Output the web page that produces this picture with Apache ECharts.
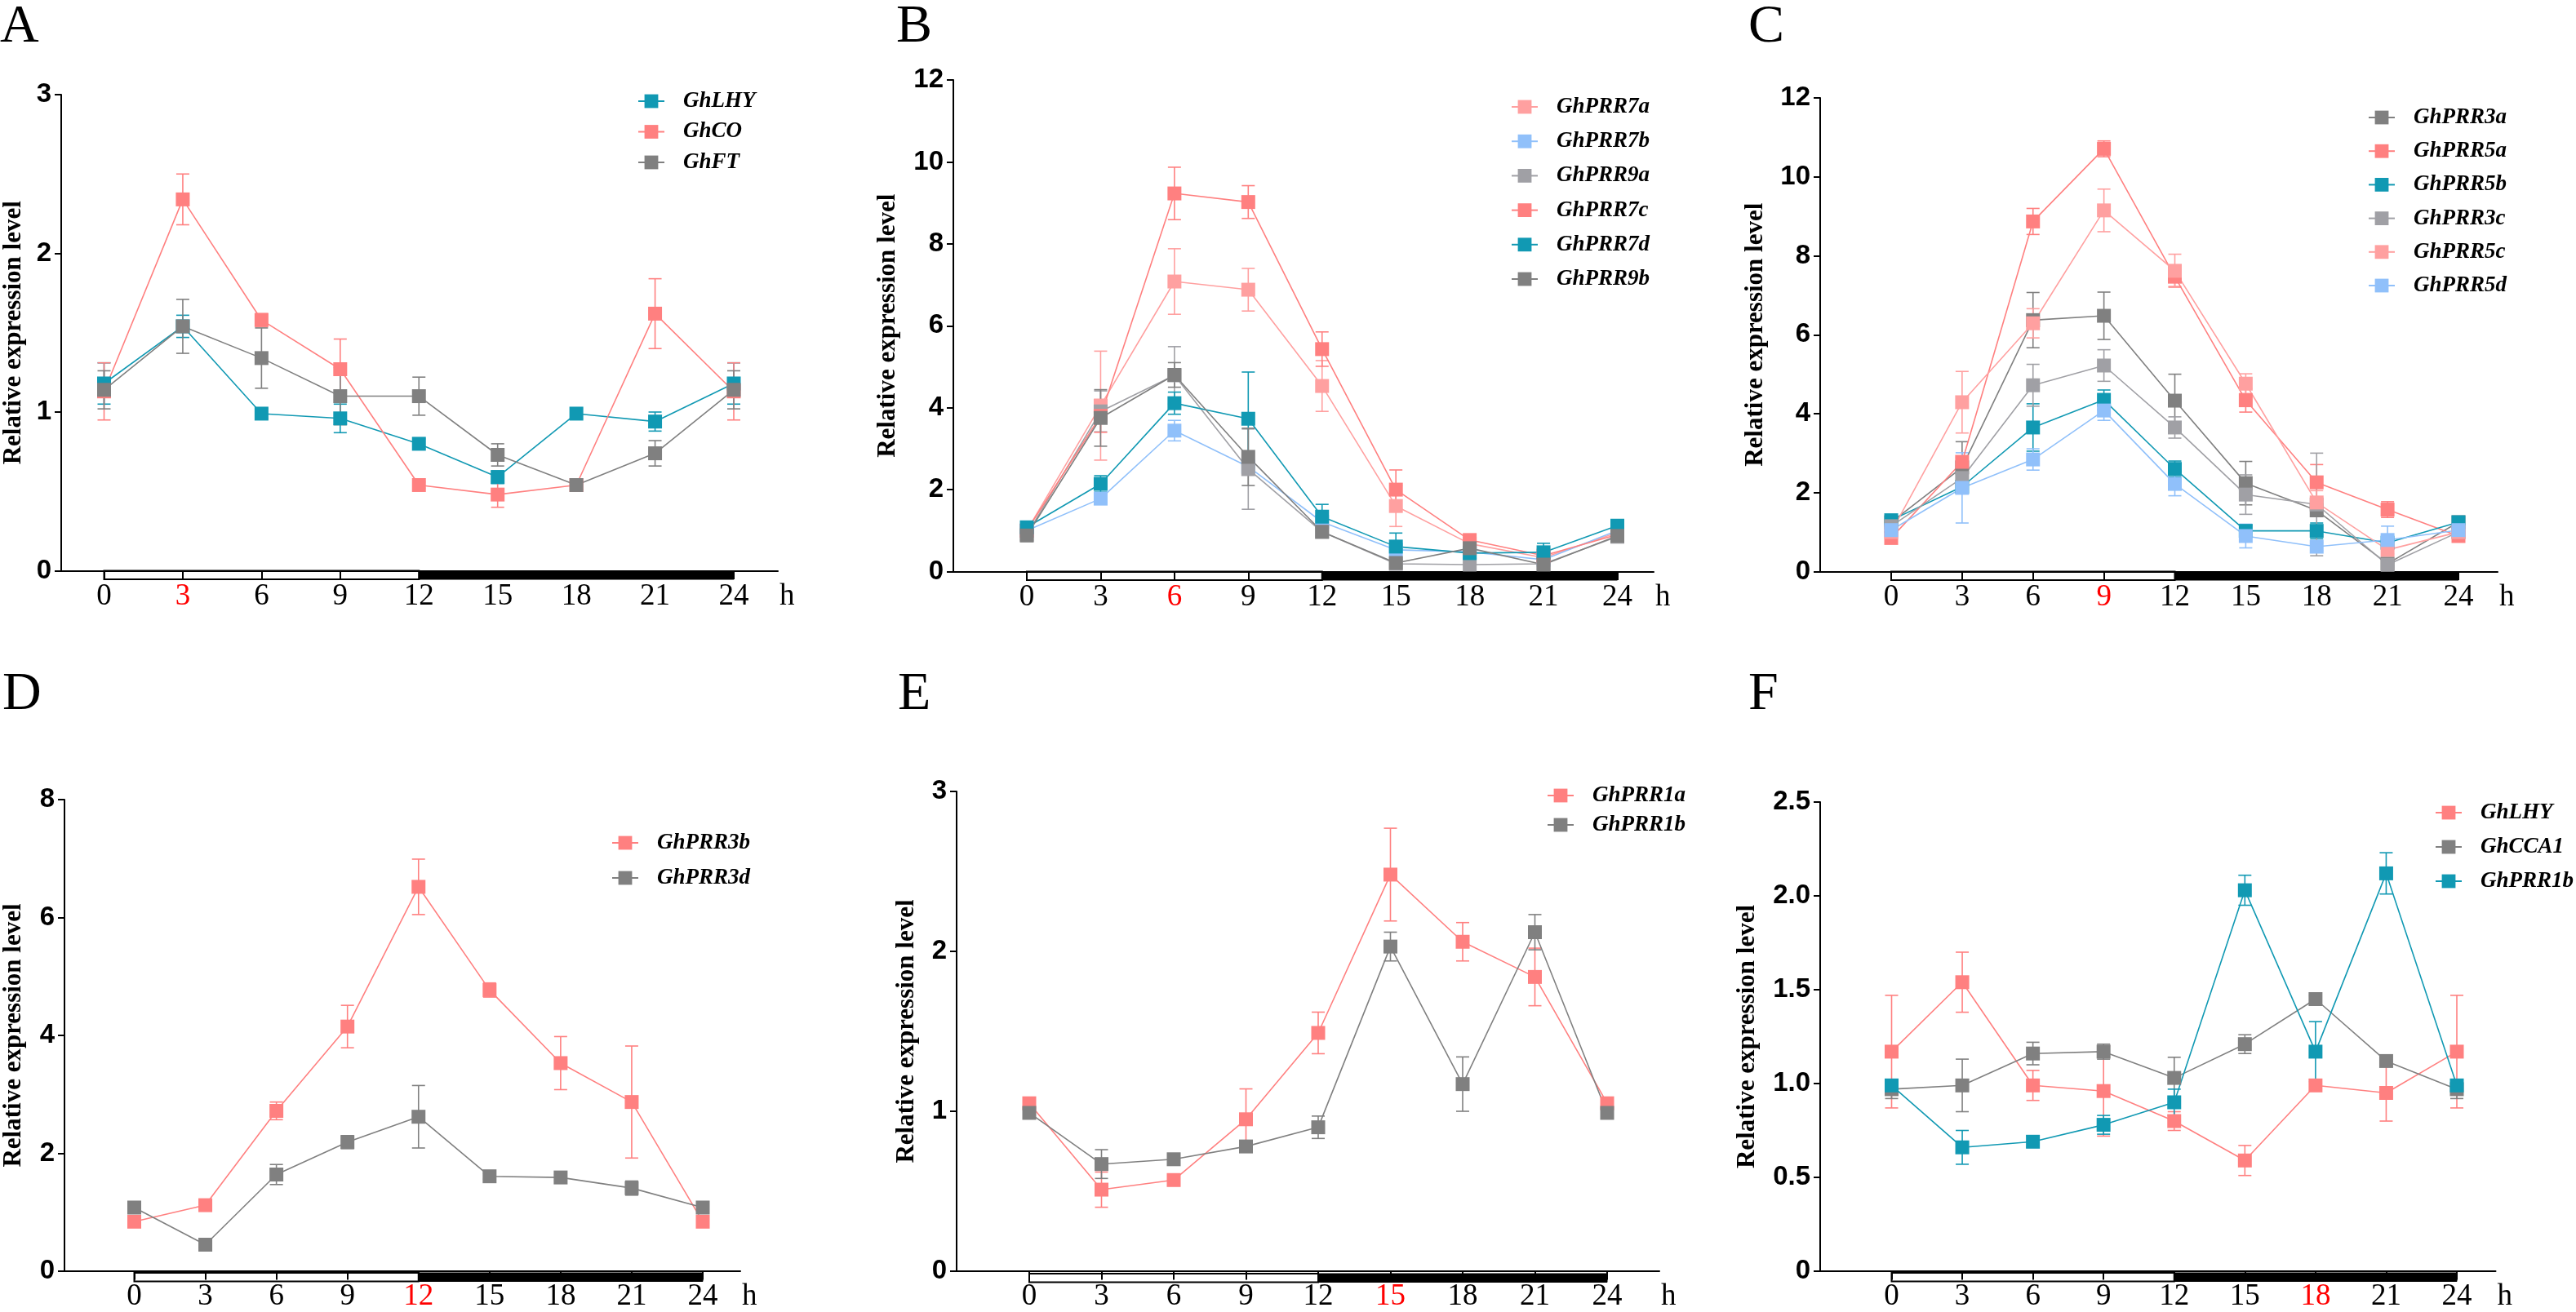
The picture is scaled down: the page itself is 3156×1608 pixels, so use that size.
<!DOCTYPE html>
<html>
<head>
<meta charset="utf-8">
<script src="https://cdn.jsdelivr.net/npm/echarts@6/dist/echarts.min.js"></script>
<style>html,body{margin:0;padding:0;background:#fff;}#c{width:3156px;height:1608px;}</style>
</head>
<body>
<div id="c"></div>
<script>
// ---------- data ----------
const hours = [0, 3, 6, 9, 12, 15, 18, 21, 24];
const dayNight = [[0, 12, 0], [12, 24, 1]]; // [start, end, 0=light 1=dark]

// Panel A
const aLHY = [1.18, 1.54, 0.99, 0.96, 0.80, 0.59, 0.99, 0.94, 1.18];
const aLHYErr = [0.13, 0.07, 0.03, 0.09, 0.03, 0.04, 0.03, 0.06, 0.13];
const aCO = [1.13, 2.34, 1.58, 1.27, 0.54, 0.48, 0.54, 1.62, 1.13];
const aCOErr = [0.18, 0.16, 0.04, 0.19, 0.02, 0.08, 0.03, 0.22, 0.18];
const aFT = [1.14, 1.54, 1.34, 1.10, 1.10, 0.73, 0.54, 0.74, 1.14];
const aFTErr = [0.12, 0.17, 0.19, 0.18, 0.12, 0.07, 0.03, 0.08, 0.12];

// Panel B
const bPRR7a = [1.00, 4.05, 7.08, 6.88, 4.53, 1.60, 0.68, 0.34, 0.95];
const bPRR7aErr = [0.05, 1.33, 0.80, 0.52, 0.62, 0.50, 0.10, 0.05, 0.05];
const bPRR7b = [1.00, 1.78, 3.44, 2.56, 1.21, 0.53, 0.48, 0.29, 1.00];
const bPRR7bErr = [0.05, 0.10, 0.25, 0.10, 0.10, 0.05, 0.05, 0.05, 0.05];
const bPRR9a = [0.90, 3.91, 4.79, 2.50, 0.97, 0.19, 0.17, 0.19, 0.85];
const bPRR9aErr = [0.05, 0.50, 0.70, 0.98, 0.10, 0.05, 0.05, 0.05, 0.05];
const bPRR7c = [1.00, 3.80, 9.23, 9.02, 5.43, 2.00, 0.77, 0.39, 0.90];
const bPRR7cErr = [0.05, 0.40, 0.64, 0.40, 0.42, 0.48, 0.12, 0.05, 0.05];
const bPRR7d = [1.08, 2.14, 4.11, 3.73, 1.34, 0.61, 0.45, 0.47, 1.12];
const bPRR7dErr = [0.05, 0.20, 0.27, 1.14, 0.30, 0.33, 0.05, 0.22, 0.05];
const bPRR9b = [0.88, 3.75, 4.80, 2.80, 0.97, 0.21, 0.57, 0.17, 0.87];
const bPRR9bErr = [0.05, 0.69, 0.30, 0.70, 0.10, 0.05, 0.10, 0.05, 0.05];

// Panel C
const cPRR3a = [1.25, 2.64, 6.37, 6.48, 4.33, 2.24, 1.55, 0.20, 1.25];
const cPRR3aErr = [0.10, 0.65, 0.70, 0.60, 0.67, 0.55, 0.10, 0.05, 0.10];
const cPRR5a = [0.85, 2.78, 8.87, 10.71, 7.47, 4.34, 2.26, 1.57, 0.90];
const cPRR5aErr = [0.10, 0.10, 0.33, 0.20, 0.25, 0.30, 0.45, 0.20, 0.10];
const cPRR5b = [1.30, 2.15, 3.65, 4.35, 2.60, 1.03, 1.03, 0.73, 1.25];
const cPRR5bErr = [0.10, 0.10, 0.60, 0.25, 0.20, 0.15, 0.20, 0.05, 0.10];
const cPRR3c = [1.15, 2.37, 4.72, 5.22, 3.65, 1.95, 1.70, 0.17, 1.00];
const cPRR3cErr = [0.10, 0.10, 0.53, 0.40, 0.27, 0.50, 1.30, 0.05, 0.10];
const cPRR5c = [1.00, 4.29, 6.29, 9.15, 7.62, 4.76, 1.75, 0.55, 1.00];
const cPRR5cErr = [0.10, 0.78, 0.37, 0.54, 0.42, 0.25, 0.30, 0.10, 0.10];
const cPRR5d = [1.05, 2.12, 2.84, 4.08, 2.22, 0.90, 0.63, 0.80, 1.05];
const cPRR5dErr = [0.10, 0.89, 0.27, 0.25, 0.30, 0.30, 0.10, 0.35, 0.10];

// Panel D
const dPRR3b = [0.84, 1.12, 2.72, 4.15, 6.52, 4.77, 3.53, 2.87, 0.84];
const dPRR3bErr = [0.05, 0.05, 0.15, 0.36, 0.47, 0.12, 0.45, 0.95, 0.05];
const dPRR3d = [1.08, 0.45, 1.64, 2.19, 2.62, 1.61, 1.59, 1.41, 1.08];
const dPRR3dErr = [0.05, 0.05, 0.17, 0.11, 0.53, 0.05, 0.05, 0.12, 0.05];

// Panel E
const ePRR1a = [1.05, 0.51, 0.57, 0.95, 1.49, 2.48, 2.06, 1.84, 1.05];
const ePRR1aErr = [0.02, 0.11, 0.02, 0.19, 0.13, 0.29, 0.12, 0.18, 0.02];
const ePRR1b = [0.99, 0.67, 0.70, 0.78, 0.90, 2.03, 1.17, 2.12, 0.99];
const ePRR1bErr = [0.02, 0.09, 0.03, 0.03, 0.07, 0.09, 0.17, 0.11, 0.02];

// Panel F
const fLHY = [1.17, 1.54, 0.99, 0.96, 0.80, 0.59, 0.99, 0.95, 1.17];
const fLHYErr = [0.30, 0.16, 0.08, 0.24, 0.05, 0.08, 0.03, 0.15, 0.30];
const fCCA1 = [0.97, 0.99, 1.16, 1.17, 1.03, 1.21, 1.45, 1.12, 0.97];
const fCCA1Err = [0.05, 0.14, 0.06, 0.04, 0.11, 0.05, 0.02, 0.02, 0.05];
const fPRR1b = [0.99, 0.66, 0.69, 0.78, 0.90, 2.03, 1.17, 2.12, 0.99];
const fPRR1bErr = [0.02, 0.09, 0.03, 0.05, 0.07, 0.08, 0.16, 0.11, 0.02];

// ---------- colours ----------
const TEAL = '#1199B3', SALMON = '#FF8080', LPINK = '#FFA0A0',
      LBLUE = '#90C0FA', LGREY = '#A0A0A5', GREY = '#808080';

// ---------- panels ----------
const panels = [
  { key: 'A', hl: 3, series: [['GhLHY', aLHY, aLHYErr, TEAL], ['GhCO', aCO, aCOErr, SALMON], ['GhFT', aFT, aFTErr, GREY]] },
  { key: 'B', hl: 6, series: [['GhPRR7a', bPRR7a, bPRR7aErr, LPINK], ['GhPRR7b', bPRR7b, bPRR7bErr, LBLUE], ['GhPRR9a', bPRR9a, bPRR9aErr, LGREY],
                              ['GhPRR7c', bPRR7c, bPRR7cErr, SALMON], ['GhPRR7d', bPRR7d, bPRR7dErr, TEAL], ['GhPRR9b', bPRR9b, bPRR9bErr, GREY]] },
  { key: 'C', hl: 9, series: [['GhPRR3a', cPRR3a, cPRR3aErr, GREY], ['GhPRR5a', cPRR5a, cPRR5aErr, SALMON], ['GhPRR5b', cPRR5b, cPRR5bErr, TEAL],
                              ['GhPRR3c', cPRR3c, cPRR3cErr, LGREY], ['GhPRR5c', cPRR5c, cPRR5cErr, LPINK], ['GhPRR5d', cPRR5d, cPRR5dErr, LBLUE]] },
  { key: 'D', hl: 12, series: [['GhPRR3b', dPRR3b, dPRR3bErr, SALMON], ['GhPRR3d', dPRR3d, dPRR3dErr, GREY]] },
  { key: 'E', hl: 15, series: [['GhPRR1a', ePRR1a, ePRR1aErr, SALMON], ['GhPRR1b', ePRR1b, ePRR1bErr, GREY]] },
  { key: 'F', hl: 18, series: [['GhLHY', fLHY, fLHYErr, SALMON], ['GhCCA1', fCCA1, fCCA1Err, GREY], ['GhPRR1b', fPRR1b, fPRR1bErr, TEAL]] }
];
const yMax = { A: 3, B: 12, C: 12, D: 8, E: 3, F: 2.5 };
const yStep = { A: 1, B: 2, C: 2, D: 2, E: 1, F: 0.5 };

// ---------- layout (pixels) ----------
const L = {
  A: { ax: 72,   end: 953,    x0: 127.5,  x24: 899,    top: 116, y0: 699.5, lab: [0, 1],     leg: [797, 124, 37.5],  gap: 43 },
  B: { ax: 1168, end: 2026,   x0: 1258,   x24: 1981.5, top: 98,  y0: 700.5, lab: [1098, 1],  leg: [1867, 131, 42.2], gap: 65 },
  C: { ax: 2230, end: 3060,   x0: 2317,   x24: 3012,   top: 120, y0: 700.5, lab: [2142, 1],  leg: [2917, 144, 41.2], gap: 64 },
  D: { ax: 78,   end: 907,    x0: 164.5,  x24: 861,    top: 980, y0: 1560,  lab: [3, 819],   leg: [765, 1033, 43],   gap: 47 },
  E: { ax: 1172, end: 2033,   x0: 1261,   x24: 1969,   top: 970, y0: 1561,  lab: [1100, 819],leg: [1911, 975, 36],   gap: 46 },
  F: { ax: 2230, end: 3057.5, x0: 2317.5, x24: 3010,   top: 983, y0: 1560,  lab: [2142, 819],leg: [2999, 996, 42],   gap: 74 }
};
const BAR_H = 10.5;
const SERIF = "'Liberation Serif', 'Times New Roman', serif";
const SANS = "'Liberation Sans', Arial, sans-serif";
const W = 3156, H = 1608;

function errRender(params, api) {
  const x = api.value(0), v = api.value(1), e = api.value(2);
  const t = api.coord([x, v + e]), b = api.coord([x, v - e]);
  const hw = 8;
  const style = { stroke: api.visual('color'), lineWidth: 1.6 };
  return { type: 'group', children: [
    { type: 'line', shape: { x1: t[0], y1: t[1], x2: b[0], y2: b[1] }, style },
    { type: 'line', shape: { x1: t[0] - hw, y1: t[1], x2: t[0] + hw, y2: t[1] }, style },
    { type: 'line', shape: { x1: b[0] - hw, y1: b[1], x2: b[0] + hw, y2: b[1] }, style }
  ] };
}
function barRender(params, api) {
  const s = api.value(0), e = api.value(1), dark = api.value(2);
  const p1 = api.coord([s, 1]), p2 = api.coord([e, 0]);
  return { type: 'rect', shape: { x: p1[0], y: p1[1], width: p2[0] - p1[0], height: p2[1] - p1[1] },
           style: dark ? { fill: '#000', stroke: '#000', lineWidth: 1 } : { fill: 'rgba(0,0,0,0)', stroke: '#000', lineWidth: 2 } };
}

const option = { animation: false, backgroundColor: '#fff', title: [], grid: [], xAxis: [], yAxis: [], legend: [], series: [] };

panels.forEach((p, i) => {
  const l = L[p.key];
  const gMain = i * 3, gFrame = i * 3 + 1, gBar = i * 3 + 2;
  const h = l.y0 - l.top;
  option.grid.push({ left: l.x0, top: l.top, width: l.x24 - l.x0, height: h });
  option.grid.push({ left: l.ax, top: l.top, width: l.end - l.ax, height: h });
  option.grid.push({ left: l.x0, top: l.y0, width: l.x24 - l.x0, height: BAR_H });

  option.title.push({ text: p.key, left: l.lab[0], top: l.lab[1], padding: 0,
    textStyle: { fontFamily: SERIF, fontWeight: 'normal', fontSize: 66, color: '#000' } });

  // x axes
  option.xAxis.push({ gridIndex: gMain, type: 'value', min: 0, max: 24, interval: 3,
    axisLine: { show: false }, splitLine: { show: false },
    axisTick: { show: true, length: BAR_H, lineStyle: { color: '#000', width: 2 } },
    axisLabel: { show: true, margin: 13, fontFamily: SERIF, fontSize: 37, color: '#000',
      formatter: v => (v === p.hl ? '{r|' + v + '}' : '{n|' + v + '}'),
      rich: { r: { color: '#FF0000', fontFamily: SERIF, fontSize: 37 }, n: { color: '#000', fontFamily: SERIF, fontSize: 37 } } } });
  option.xAxis.push({ gridIndex: gFrame, type: 'value', min: 0, max: 1,
    axisLine: { show: true, lineStyle: { color: '#000', width: 2 } }, axisTick: { show: false }, axisLabel: { show: false },
    splitLine: { show: false }, name: 'h', nameLocation: 'end', nameGap: 2,
    nameTextStyle: { fontFamily: SERIF, fontSize: 37, color: '#000', verticalAlign: 'top', padding: [13, 0, 0, 0] } });
  option.xAxis.push({ gridIndex: gBar, type: 'value', min: 0, max: 24, show: false });

  // y axes
  option.yAxis.push({ gridIndex: gMain, type: 'value', min: 0, max: yMax[p.key], show: false });
  option.yAxis.push({ gridIndex: gFrame, type: 'value', min: 0, max: yMax[p.key], interval: yStep[p.key],
    axisLine: { show: true, lineStyle: { color: '#000', width: 2 } },
    axisTick: { show: true, length: 8, lineStyle: { color: '#000', width: 2 } },
    splitLine: { show: false },
    axisLabel: { margin: 12, fontFamily: SANS, fontWeight: 'bold', fontSize: 33, color: '#000',
      formatter: v => (yStep[p.key] < 1 ? (v === 0 ? '0' : v.toFixed(1)) : String(v)) },
    name: 'Relative expression level', nameLocation: 'middle', nameRotate: 90, nameGap: l.gap,
    nameTextStyle: { fontFamily: SERIF, fontWeight: 'bold', fontSize: 31, color: '#000' } });
  option.yAxis.push({ gridIndex: gBar, type: 'value', min: 0, max: 1, show: false });

  // day/night bar
  option.series.push({ type: 'custom', name: p.key + '|bar', xAxisIndex: gBar, yAxisIndex: gBar,
    renderItem: barRender, data: dayNight, silent: true, z: 1 });

  // legend
  const names = [];
  const rowH = 27;
  option.legend.push({ orient: 'vertical', left: l.leg[0] - 16, top: l.leg[1] - rowH / 2, padding: 0,
    itemWidth: 32, itemHeight: 21, itemGap: l.leg[2] - rowH, data: names,
    formatter: n => n.split('|')[1], selectedMode: false,
    textStyle: { fontFamily: SERIF, fontStyle: 'italic', fontWeight: 'bold', fontSize: 27, lineHeight: rowH, color: '#000', padding: [0, 0, 0, 18] } });

  p.series.forEach(s => {
    const nm = p.key + '|' + s[0];
    names.push(nm);
    option.series.push({ type: 'custom', name: nm + ' err', xAxisIndex: gMain, yAxisIndex: gMain,
      renderItem: errRender, itemStyle: { color: s[3] }, z: 2, silent: true,
      encode: { x: 0, y: 1 }, data: hours.map((hr, k) => [hr, s[1][k], s[2][k]]) });
  });
  p.series.forEach(s => {
    const nm = p.key + '|' + s[0];
    option.series.push({ type: 'line', name: nm, xAxisIndex: gMain, yAxisIndex: gMain,
      symbol: 'rect', symbolSize: 17, showAllSymbol: true,
      lineStyle: { color: s[3], width: 1.6 }, itemStyle: { color: s[3] }, z: 3,
      data: hours.map((hr, k) => [hr, s[1][k]]) });
  });
});

const chart = echarts.init(document.getElementById('c'), null, { renderer: 'canvas', width: W, height: H });
chart.setOption(option);
</script>
</body>
</html>
